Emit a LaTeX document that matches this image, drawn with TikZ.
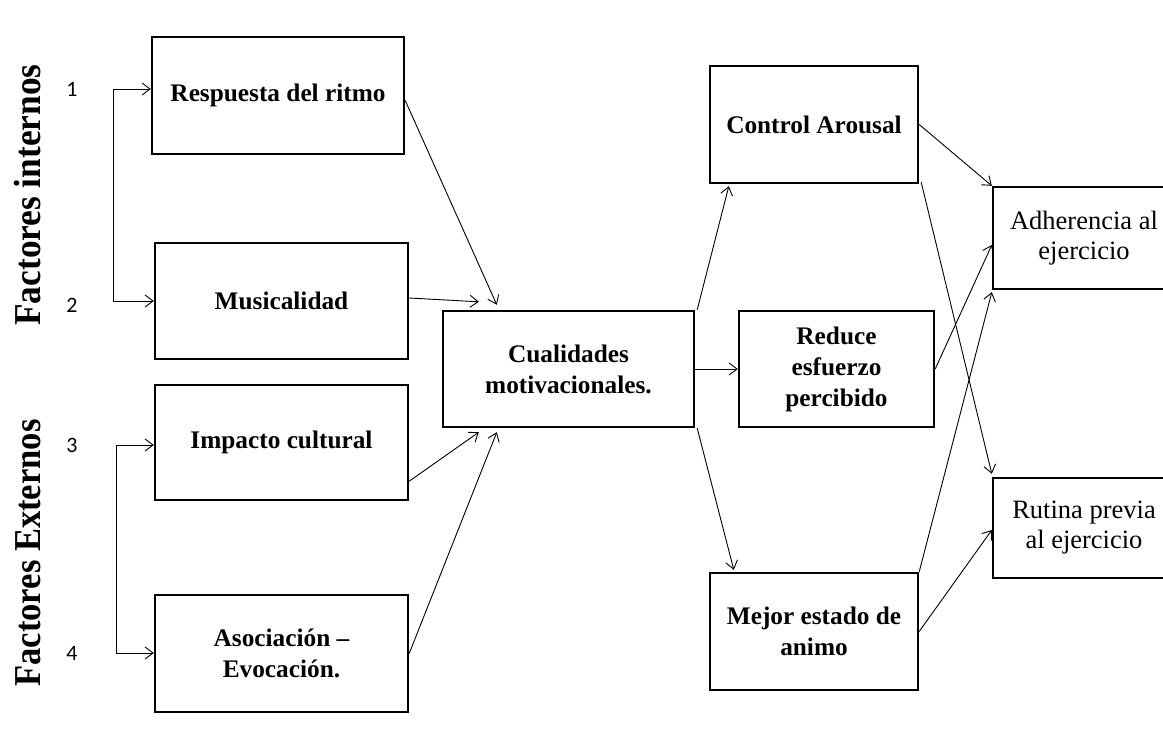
\documentclass[tikz,border=0pt]{standalone}
\usepackage{fontspec}
\setmainfont{Liberation Serif}
\newfontfamily\numfont{Carlito}
\usetikzlibrary{calc,arrows.meta}

\begin{document}
\begin{tikzpicture}[x=1pt,y=-1pt,
    box/.style={draw,line width=2.4pt,rectangle,align=center,inner sep=0pt,
      font=\bfseries\fontsize{25.3}{31}\selectfont},
    outbox/.style={box,font=\fontsize{26.5}{30}\selectfont},
    link/.style={-{Straight Barb[length=8pt,width=12pt]},line width=0.9pt},
    side/.style={rotate=90,font=\bfseries\fontsize{38}{40}\selectfont},
    num/.style={font=\numfont\fontsize{22}{24}\selectfont}]
    \useasboundingbox (0,0) rectangle (1163,733);

    % Side titles
    \node[side] (fint) at (28,195) {\scalebox{0.93}[1]{Factores internos}};
    \node[side] (fext) at (28,553) {\scalebox{0.91}[1]{Factores Externos}};

    % Numbers
    \node[num] (n1) at (72,89) {1};
    \node[num] (n2) at (72,305) {2};
    \node[num] (n3) at (72,445) {3};
    \node[num] (n4) at (72,653) {4};

    % Left boxes
    \node[box,minimum width=252pt,minimum height=117pt] (resp) at (278,95.5) {Respuesta del ritmo};
    \node[box,minimum width=253pt,minimum height=116pt] (mus) at (281.5,301) {Musicalidad};
    \node[box,minimum width=253pt,minimum height=115pt] (imp) at (281.5,442.5) {Impacto cultural};
    \node[box,minimum width=253pt,minimum height=117pt] (asoc) at (281.5,653.5) {Asociación --\\Evocación.};

    % Centre
    \node[box,minimum width=251pt,minimum height=116pt] (cual) at (568.5,369) {Cualidades\\motivacionales.};

    % Effects
    \node[box,minimum width=208pt,minimum height=117pt] (ctrl) at (814,124.5) {Control Arousal};
    \node[box,minimum width=195pt,minimum height=116pt] (red) at (836.5,369) {Reduce\\esfuerzo\\percibido};
    \node[box,minimum width=208pt,minimum height=117pt] (mej) at (814,631.5) {Mejor estado de\\animo};

    % Outcomes
    \node[outbox,minimum width=182pt,minimum height=102pt] (adh) at (1084,238) {Adherencia al\\ejercicio};
    \node[outbox,minimum width=182pt,minimum height=100pt] (rut) at (1084,528) {Rutina previa\\al ejercicio};

    % Brackets
    \coordinate (b1) at (113,89);
    \coordinate (b2) at (113,301);
    \coordinate (b3) at (116,445);
    \coordinate (b4) at (116,653);
    \draw[link,{Straight Barb[length=8pt,width=12pt]}-{Straight Barb[length=8pt,width=12pt]}] (resp.west |- b1) -- (b1) -- (b2) -- (mus.west |- b2);
    \draw[link,{Straight Barb[length=8pt,width=12pt]}-{Straight Barb[length=8pt,width=12pt]}] (imp.west |- b3) -- (b3) -- (b4) -- (asoc.west |- b4);

    % Into the centre
    \draw[link] ($(resp.east)+(0,5)$) -- ($(cual.north west)+(55,-5)$);
    \draw[link] ($(mus.east)+(0,-3)$) -- ($(cual.north west)+(37,-8)$);
    \draw[link] ($(imp.south east)+(0,-20)$) -- ($(cual.south west)+(37,4)$);
    \draw[link] (asoc.east) -- ($(cual.south west)+(55,4)$);

    % Out of the centre
    \draw[link] ($(cual.north east)+(2,0)$) -- ($(ctrl.south west)+(20,2)$);
    \draw[link] (cual.east) -- (red.west);
    \draw[link] ($(cual.south east)+(2,0)$) -- ($(mej.north west)+(25,-2)$);

    % Into the outcomes
    \draw[link] (ctrl.east) -- (adh.north west);
    \draw[link] ($(ctrl.south east)+(2,-2)$) -- ($(rut.north west)+(0,-3)$);
    \draw[link] (red.east) -- ($(adh.west)+(0,7)$);
    \draw[link] (mej.north east) -- ($(adh.south west)+(0,2)$);
    \draw[link] (mej.east) -- ($(rut.west)+(0,2)$);
\end{tikzpicture}
\end{document}
